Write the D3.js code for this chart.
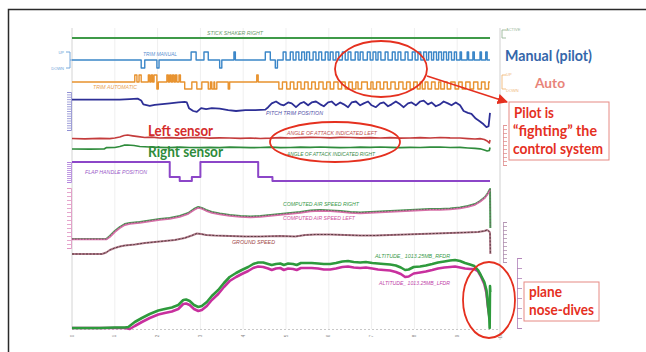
<!DOCTYPE html>
<html><head><meta charset="utf-8">
<script src="https://cdn.jsdelivr.net/npm/d3@7"></script>
<style>body{margin:0;background:#fff}svg{display:block}</style>
</head><body>
<svg id="c" width="646" height="352"></svg>
<script>
// ---------------- DATA ----------------
const timeTicks = [0, 60, 120, 180, 240, 300, 360, 420, 480, 540, 600];
const tickLabels = ["0", "1", "2", "3", "4", "5", "6", "7", "8", "9", "10"];
const endTime = 586;

const stickShaker = [[0, 0], [586, 0]];

// [start s, end s, direction]  +1 = UP, -1 = DOWN
const trimManualEvents = [[97,102,-1],[119,122,-1],[167,174,1],[185,191,1],[207,210,-1],[227,229,1],[271,278,1],[285,288,-1],
[296,300,1],[306,310,1],[314,318,1],[322,326,1],[329,333,1],[338,342,1],[346,350,1],[355,359,1],[362,366,1],[370,374,1],[379,383,1],
[387,391,1],[397,401,1],[404,408,1],[414,418,1],[422,426,1],[429,433,1],[439,443,1],[449,453,1],[457,461,1],[467,471,1],[477,481,1],
[485,489,1],[493,497,1],[500,504,1],[507,511,1],[514,518,1],[521,525,1],[528,532,1],[536,539,1],[544,546,1],[554,556,1],[562,564,1],
[572,574,1],[580,582,1]];

const trimAutoEvents = [[88,91,1],[94,97,1],[107,109,1],[111,113,1],[115,119,1],[119,121,-1],[133,135,1],[137,139,1],[141,143,1],
[145,147,1],[150,152,1],[158,168,-1],[175,182,-1],[191,194,-1],[196,199,-1],[200,203,-1],[219,221,-1],[259,261,1],
[290,295,-1],[301,306,-1],[311,316,-1],[321,326,-1],[331,336,-1],[341,346,-1],[352,357,-1],[362,367,-1],[373,378,-1],[383,388,-1],
[393,398,-1],[401,406,-1],[414,419,-1],[422,427,-1],[432,437,-1],[442,447,-1],[453,458,-1],[464,469,-1],[474,479,-1],[484,488,-1],
[491,495,-1],[499,504,-1],[509,514,-1],[517,522,-1],[526,531,-1],[537,542,-1],[547,552,-1],[558,563,-1],[569,574,-1],[579,584,-1]];

const pitchTrim = [[0,6.4],[67,6.4],[81,6.5],[92,6.6],[97,6.2],[100,5.4],[109,5.1],[116,5.3],[123,5.4],[137,5.6],[149,5.8],[158,5.9],
[161,5.8],[164,4.6],[170,4.0],[175,3.8],[181,4.6],[188,4.4],[196,4.6],[207,4.5],[219,4.2],[230,4.0],[243,4.2],[257,4.2],[271,4.3],
[275,4.8],[280,5.6],[286,6.0],[292,5.4],[297,5.2],[303,5.8],[308,5.6],[314,4.8],[320,5.6],[325,5.9],[331,5.2],[336,5.8],[342,6.0],
[348,5.4],[353,5.0],[359,5.8],[364,6.0],[370,5.2],[376,5.8],[381,5.4],[387,4.8],[392,5.8],[398,6.0],[404,5.2],[409,5.6],[415,6.0],
[420,5.2],[426,4.8],[432,5.6],[437,5.8],[443,5.0],[448,5.4],[454,6.0],[460,5.4],[465,4.8],[471,5.6],[476,5.8],[482,5.2],[488,6.0],
[493,6.2],[499,5.4],[504,5.8],[510,5.0],[516,5.4],[521,6.0],[527,5.6],[532,5.2],[538,5.8],[544,5.2],[549,4.0],[555,3.6],[560,3.4],
[566,2.4],[572,1.8],[577,1.2],[581,0.6],[584,0.8],[586,3.6]];

const aoaLeft = [[0,13.25],[18,13.1],[39,13.35],[53,13.2],[60,13.5],[67,14],[73,14.75],[78,15],[85,14.6],[93,14.2],[102,13.75],
[112,13.9],[123,13.5],[137,13.7],[151,13.4],[165,13.65],[179,13.75],[193,13.45],[207,13.6],[221,13.5],[236,13.3],[250,13.5],
[264,13.25],[278,13.4],[292,13.7],[306,13.5],[320,13.65],[334,13.85],[348,13.75],[362,13.55],[376,13.8],[390,13.75],[404,13.55],
[418,13.7],[432,13.5],[446,13.65],[460,13.45],[474,13.5],[488,13.7],[502,13.5],[516,13.75],[530,13.55],[544,13.5],[555,13.2],
[565,13],[572,13.15],[578,12.75],[582,12],[585,11],[586,12.5]];

const aoaRight = [[0,8],[25,7.9],[45,8],[48,8.65],[60,8.75],[67,9.25],[73,9.9],[78,10],[87,9.75],[95,9.25],[109,9],[123,8.8],
[137,8.7],[151,8.9],[165,8.75],[179,8.7],[193,8.85],[207,8.7],[221,8.95],[236,8.8],[250,8.7],[264,8.75],[278,8.9],[292,8.7],
[306,8.75],[320,8.95],[334,8.8],[348,9],[362,8.85],[376,8.7],[390,8.75],[404,8.95],[418,8.8],[432,9],[446,8.8],[460,8.7],
[474,8.85],[488,8.75],[502,8.9],[516,9],[530,8.75],[544,8.8],[555,8.5],[565,8.3],[572,8.1],[578,7.5],[582,7],[585,7.25],[586,8.75]];

const flapHandle = [[0,20],[137,5],[151,1],[168,5],[180,20],[261,5],[281,1],[586,1]];

const casRight = [[0,45],[48,45],[53,60],[60,85],[67,105],[74,120],[81,125],[95,130],[109,137.5],[123,145],[137,150],[151,160],
[163,175],[171,195],[177,205],[182,200],[188,190],[196,180],[207,172.5],[221,165],[236,160],[250,157.5],[264,160],[278,165],
[292,170],[306,175],[320,180],[334,187.5],[348,190],[362,187.5],[376,185],[390,180],[404,177.5],[418,180],[432,182.5],[446,185],
[460,187.5],[474,190],[488,192.5],[502,195],[516,195],[530,197.5],[544,202.5],[555,210],[565,220],[572,235],[579,255],[583,275],
[586,295],[586.5,100]];

const casLeft = [[0,43],[48,43],[53,55],[60,80],[67,100],[74,115],[81,121],[95,126],[109,133],[123,141],[137,146],[151,156],
[163,171],[171,190],[177,201],[182,197],[188,186],[196,176],[207,168],[221,161],[236,156],[250,153],[264,156],[278,161],[292,166],
[306,171],[320,176],[334,183],[348,186],[362,184],[376,181],[390,176],[404,173],[418,176],[432,178],[446,181],[460,183],[474,186],
[488,188],[502,191],[516,191],[530,193],[544,198],[555,206],[565,216],[572,231],[579,251],[583,271],[586,290]];

const groundSpeed = [[0,40],[42,40],[48,47.5],[53,60],[60,70],[67,77.5],[74,82.5],[88,87.5],[102,95],[116,100],[130,105],[144,110],
[158,120],[168,132.5],[175,142.5],[181,140],[188,135],[200,132.5],[221,130],[243,127.5],[264,127.5],[292,130],[313,127.5],[327,135],
[341,137.5],[362,137.5],[383,135],[404,132.5],[425,132.5],[446,135],[467,137.5],[488,140],[509,142.5],[530,145],[551,147.5],
[569,150],[578,155],[582,160],[585,152.5],[586,145],[586.5,40]];

const altRight = [[0,0],[39,0],[60,50],[74,50],[79,100],[88,600],[98,1000],[109,1400],[121,1750],[130,1900],[140,2050],[149,2300],
[156,2800],[160,2850],[165,2700],[171,2300],[177,2100],[182,2200],[189,2600],[196,3200],[205,3800],[213,4500],[221,5100],[230,5500],
[238,5800],[247,6100],[254,6400],[261,6550],[268,6550],[275,6400],[280,6300],[286,6400],[292,6450],[297,6300],[303,6450],[310,6400],
[315,6300],[321,6500],[328,6500],[336,6500],[345,6450],[353,6400],[362,6400],[370,6500],[379,6650],[387,6700],[395,6600],[404,6550],
[412,6600],[421,6500],[429,6450],[437,6400],[446,6350],[454,6250],[461,6050],[467,5800],[472,5850],[479,6100],[488,6150],[496,6250],
[505,6400],[513,6550],[522,6650],[530,6750],[537,6800],[544,6700],[551,6500],[558,6350],[564,6200],[569,5800],[573,5300],[578,4600],
[581,3800],[583,2300],[585,1000],[585.5,0],[586,4200],[586.4,3600]];

const altLeft = [[0,0],[74,0],[81,-100],[88,200],[98,600],[109,1000],[121,1350],[130,1500],[140,1650],[149,1900],[156,2400],[160,2450],
[165,2300],[171,1900],[177,1700],[182,1800],[189,2200],[196,2800],[205,3400],[213,4100],[221,4700],[230,5100],[238,5400],[247,5700],
[254,6000],[261,6150],[268,6100],[275,5950],[280,5800],[286,5950],[292,6000],[297,5800],[303,5950],[310,5900],[315,5800],[321,6000],
[328,6000],[336,6000],[345,5950],[353,5850],[362,5850],[370,5950],[379,6100],[387,6150],[395,6050],[404,6000],[412,6050],[421,5950],
[429,5850],[437,5800],[446,5750],[454,5600],[461,5400],[467,5100],[472,5150],[479,5450],[488,5550],[496,5650],[505,5800],[513,5950],
[522,6050],[530,6100],[537,6150],[544,6050],[551,5950],[558,5900],[564,5900],[569,5700],[573,5200],[578,4400],[581,3500],[583,2200],
[585,1200]];

// ---------------- SCALES ----------------
const svg = d3.select("#c");
const x = d3.scaleLinear().domain([0, 600]).range([72, 500]);
const yStick = d3.scaleLinear().domain([0, 1]).range([38, 30]);
const yManual = d3.scaleLinear().domain([-1, 1]).range([68, 52]);
const yAuto = d3.scaleLinear().domain([-1, 1]).range([89, 75]);
const yPitch = d3.scaleLinear().domain([0, 8]).range([130, 92]);
const yAoa = d3.scaleLinear().domain([0, 20]).range([165, 125]);
const yFlap = d3.scaleLinear().domain([0, 20]).range([182, 162]);
const yCas = d3.scaleLinear().domain([0, 300]).range([248, 188]);
const yGs = d3.scaleLinear().domain([0, 200]).range([262, 222]);
const yAlt = d3.scaleLinear().domain([0, 7000]).range([328, 258]);

// frame
svg.append("rect").attr("x", 8.5).attr("y", 9.5).attr("width", 680).attr("height", 380)
  .attr("fill", "none").attr("stroke", "#2a2a2a").attr("stroke-width", 1.5);

// grid
const grid = svg.append("g");
grid.selectAll("line.v").data(timeTicks).join("line")
  .attr("x1", d => x(d)).attr("x2", d => x(d)).attr("y1", 28).attr("y2", 329)
  .attr("stroke", (d, i) => (i === 0 ? "#d4d4d4" : "#efefef")).attr("stroke-width", 1);
svg.append("line").attr("x1", 500).attr("x2", 500).attr("y1", 28).attr("y2", 340).attr("stroke", "#d8d8d8");
svg.append("line").attr("x1", x(0)).attr("x2", x(600)).attr("y1", 329.5).attr("y2", 329.5)
  .attr("stroke", "#c8c8c8").attr("stroke-dasharray", "2,2");

// bottom ticks
svg.append("g").selectAll("text").data(timeTicks).join("text")
  .attr("transform", d => `translate(${x(d)},336) rotate(-90)`)
  .attr("text-anchor", "middle").attr("dy", "0.35em")
  .attr("font-family", "Liberation Sans, Arial").attr("font-size", 4.5).attr("fill", "#888")
  .text((d, i) => tickLabels[i]);

// small side scales
function sideAxis(axis, tx, color, n, size) {
  const g = svg.append("g").attr("transform", `translate(${tx},0)`)
    .call(axis.ticks(n).tickSize(size).tickFormat(""));
  g.selectAll("path,line").attr("stroke", color).attr("stroke-width", 0.8);
}
sideAxis(d3.axisLeft(yPitch), 71, "#8a8ad0", 12, 4);
sideAxis(d3.axisLeft(yFlap), 71, "#b080dc", 8, 4);
sideAxis(d3.axisLeft(yCas), 71, "#e090c0", 12, 4);
sideAxis(d3.axisRight(yAoa), 503, "#e09090", 8, 4);
sideAxis(d3.axisRight(yGs), 503, "#b090b0", 8, 4);
sideAxis(d3.axisRight(yAlt), 517, "#b080b8", 7, 5);

// bracket labels
function bracket(xb, y1, y2, dir, color) {
  svg.append("path").attr("d", `M${xb - 4 * dir},${y1}H${xb}V${y2}H${xb - 4 * dir}`)
    .attr("fill", "none").attr("stroke", color).attr("stroke-width", 0.9);
}
bracket(70, yManual(1), yManual(-1), 1, "#6aa0d8");
svg.append("line").attr("x1", 70).attr("x2", 72).attr("y1", yManual(0)).attr("y2", yManual(0)).attr("stroke", "#6aa0d8");
bracket(502, yStick(1), yStick(0), -1, "#9ab89a");
bracket(502, yAuto(1), yAuto(-1), -1, "#f0b878");
const smallTxt = (t, tx, ty, color, anchor) => svg.append("text").attr("x", tx).attr("y", ty)
  .attr("font-family", "Liberation Sans, Arial").attr("font-size", 4).attr("fill", color)
  .attr("text-anchor", anchor || "start").text(t);
smallTxt("UP", 64, yManual(1) + 1.5, "#6aa0d8", "end");
smallTxt("DOWN", 64, yManual(-1) + 1.5, "#6aa0d8", "end");
smallTxt("ACTIVE", 506, yStick(1) + 1, "#9ab89a");
smallTxt("UP", 506, yAuto(1) + 1, "#f0b878");
smallTxt("DOWN", 506, yAuto(-1) + 2.5, "#f0b878");

// ---------------- SERIES ----------------
const lineOf = ys => d3.line().x(d => x(d[0])).y(d => ys(d[1]));
function draw(data, ys, color, w, curve, dash) {
  const gen = lineOf(ys);
  if (curve) gen.curve(curve);
  const p = svg.append("path").datum(data).attr("d", gen).attr("fill", "none")
    .attr("stroke", color).attr("stroke-width", w).attr("stroke-linejoin", "round");
  if (dash) p.attr("stroke-dasharray", dash);
  return p;
}
function pulsePoints(events) {
  const pts = [[0, 0]];
  events.forEach(([s, e, d]) => { pts.push([s, d], [e, 0]); });
  pts.push([endTime, 0]);
  return pts;
}

draw(stickShaker, yStick, "#3f9a48", 1.8);
draw(pulsePoints(trimManualEvents), yManual, "#3a86c8", 1.4, d3.curveStepAfter);
draw(pulsePoints(trimAutoEvents), yAuto, "#e8922e", 1.4, d3.curveStepAfter);
draw(pitchTrim, yPitch, "#2d2f96", 1.8);
draw(aoaLeft, yAoa, "#c43c3c", 1.7);
draw(aoaRight, yAoa, "#2f8c3c", 1.7);
draw(flapHandle, yFlap, "#8c46c8", 2, d3.curveStepAfter);
draw(casRight, yCas, "#4a9e55", 2);
draw(casLeft, yCas, "#d770a8", 1.8);
draw(casRight, yCas, "#6a5a60", 0.9, null, "1.5,1.5");
draw(groundSpeed, yGs, "#b07a8a", 2);
draw(groundSpeed, yGs, "#5a3a40", 1, null, "2,1.5");
draw(altLeft, yAlt, "#c8309e", 2.6);
draw(altRight, yAlt, "#2e9a3c", 2.6);

// series labels
const labels = [
  ["STICK SHAKER RIGHT", 207, 35, 56, "#6a9a6a"],
  ["TRIM MANUAL", 143, 56, 34, "#5a8fd0"],
  ["TRIM AUTOMATIC", 93, 89, 44, "#e8a050"],
  ["PITCH TRIM POSITION", 266, 115, 57, "#5050a8"],
  ["ANGLE OF ATTACK INDICATED LEFT", 287, 135, 90, "#c05050"],
  ["ANGLE OF ATTACK INDICATED RIGHT", 287, 156, 88, "#3a8a4a"],
  ["FLAP HANDLE POSITION", 85, 174, 62, "#9a5ac8"],
  ["COMPUTED AIR SPEED RIGHT", 283, 206, 76, "#3a9a4a"],
  ["COMPUTED AIR SPEED LEFT", 283, 220, 72, "#d050a0"],
  ["GROUND SPEED", 232, 244, 43, "#a04848"],
  ["ALTITUDE_ 1013.25MB_RFDR", 375, 258, 75, "#3a9a4a"],
  ["ALTITUDE_ 1013.25MB_LFDR", 379, 285, 71, "#c040a8"]
];
svg.append("g").selectAll("text").data(labels).join("text")
  .attr("x", d => d[1]).attr("y", d => d[2])
  .attr("textLength", d => d[3]).attr("lengthAdjust", "spacingAndGlyphs")
  .attr("font-family", "Liberation Sans, Arial").attr("font-style", "italic")
  .attr("font-size", 4.6).attr("fill", d => d[4]).text(d => d[0]);

// ---------------- ANNOTATIONS ----------------
const red = "#e5301f";
const defs = svg.append("defs");
defs.append("marker").attr("id", "arr").attr("viewBox", "0 0 10 10").attr("refX", 9).attr("refY", 5)
  .attr("markerWidth", 7).attr("markerHeight", 7).attr("orient", "auto")
  .append("path").attr("d", "M0,0L10,5L0,10z").attr("fill", red);

const ellipses = [[381, 69, 46, 28], [335, 142, 65, 20], [489, 300, 26, 38]];
svg.append("g").selectAll("ellipse").data(ellipses).join("ellipse")
  .attr("cx", d => d[0]).attr("cy", d => d[1]).attr("rx", d => d[2]).attr("ry", d => d[3])
  .attr("fill", "none").attr("stroke", red).attr("stroke-width", 1.8);
svg.append("line").attr("x1", 427).attr("y1", 76).attr("x2", 507).attr("y2", 102)
  .attr("stroke", red).attr("stroke-width", 1.5).attr("marker-end", "url(#arr)");

svg.append("rect").attr("x", 509).attr("y", 102).attr("width", 100).attr("height", 58)
  .attr("fill", "#fff").attr("stroke", "#e68a84").attr("stroke-width", 1);
svg.append("rect").attr("x", 524).attr("y", 282).attr("width", 75).attr("height", 39)
  .attr("fill", "#fff").attr("stroke", "#e68a84").attr("stroke-width", 1);

const big = [
  ["Manual (pilot)", 505, 61, 87, 16, "#3466aa"],
  ["Auto", 535, 88, 30, 14, "#e8847a"],
  ["Pilot is", 514, 118, 40, 15, red],
  ["\u201cfighting\u201d the", 513, 136, 84, 15, red],
  ["control system", 513, 154, 90, 15, red],
  ["plane", 529, 297, 33, 15, red],
  ["nose-dives", 529, 315, 65, 15, red],
  ["Left sensor", 148, 136, 65, 15, "#d42c2c"],
  ["Right sensor", 148, 157, 75, 15, "#2e8b3a"]
];
svg.append("g").selectAll("text").data(big).join("text")
  .attr("x", d => d[1]).attr("y", d => d[2])
  .attr("textLength", d => d[3]).attr("lengthAdjust", "spacingAndGlyphs")
  .attr("font-family", "Lato, 'Open Sans', sans-serif").attr("font-weight", "bold")
  .attr("font-size", d => d[4]).attr("fill", d => d[5]).text(d => d[0]);
</script>
</body></html>
